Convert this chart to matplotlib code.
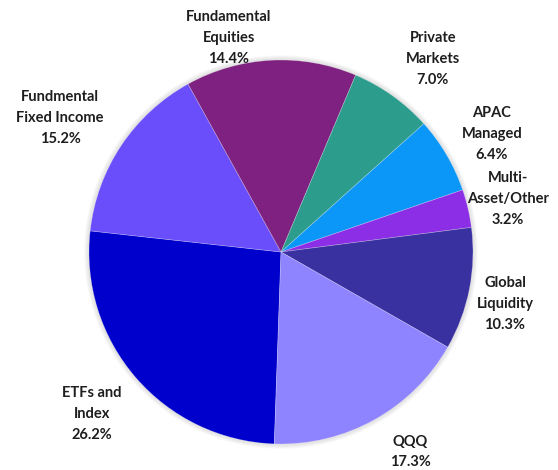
import matplotlib
matplotlib.use("Agg")
import matplotlib.pyplot as plt
from matplotlib.patches import Circle

# slices, clockwise starting just past 6 o'clock
labels = ["ETFs and\nIndex", "Fundmental\nFixed Income", "Fundamental\nEquities",
          "Private\nMarkets", "APAC\nManaged", "Multi-\nAsset/Other",
          "Global\nLiquidity", "QQQ"]
shares = [26.2, 15.2, 14.4, 7.0, 6.4, 3.2, 10.3, 17.3]
colors = ["#0000CD", "#6A4DFB", "#7E2180", "#2C9C8C",
          "#0A97F8", "#8B2EE6", "#3A31A1", "#8F84FF"]

# label anchor positions in pixel space (x, y from top)
label_pos = [(92, 414), (60, 118), (229, 38), (433, 59),
             (492, 134), (508, 199), (505, 304), (410, 452)]

W, H = 558, 470
cx, cy, r = 281, 252, 192

fig = plt.figure(figsize=(W / 100, H / 100), dpi=100)
ax = fig.add_axes([0, 0, 1, 1])

# soft shadow around the pie
for k in range(6, 0, -1):
    ax.add_patch(Circle((cx, H - cy), r + k * 0.8, color="#999999",
                        alpha=0.05, lw=0, zorder=0))

ax.pie(shares, colors=colors, startangle=-92, counterclock=False,
       center=(cx, H - cy), radius=r,
       wedgeprops=dict(edgecolor=(1, 1, 1, 0.3), linewidth=0.5),
       frame=True)
ax.set_xlim(0, W)
ax.set_ylim(0, H)
ax.set_aspect("equal")
ax.axis("off")

for lab, val, (x, y) in zip(labels, shares, label_pos):
    ax.text(x, H - y, f"{lab}\n{val:.1f}%", ha="center", va="center",
            fontsize=10.5, fontweight="bold", family="Lato",
            color="#1E1E1E", linespacing=1.6)

fig.savefig("out.png", dpi=100, facecolor="white")
